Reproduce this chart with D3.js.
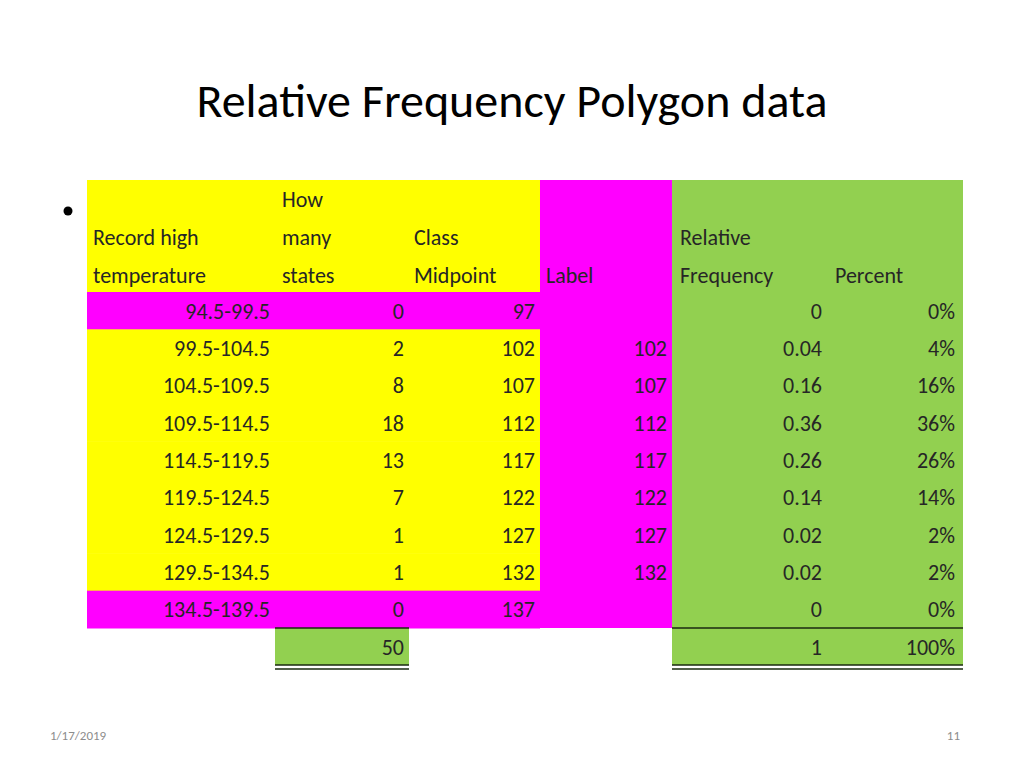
<!DOCTYPE html>
<html><head><meta charset="utf-8">
<script src="https://cdn.jsdelivr.net/npm/d3@7"></script>
<style>body{margin:0;background:#fff}</style></head>
<body><svg id="c" width="1024" height="768"></svg>
<script>
const classes=["94.5-99.5","99.5-104.5","104.5-109.5","109.5-114.5","114.5-119.5","119.5-124.5","124.5-129.5","129.5-134.5","134.5-139.5"];
const counts=[0,2,8,18,13,7,1,1,0];
const midpoints=[97,102,107,112,117,122,127,132,137];
const labels=["",102,107,112,117,122,127,132,""];
const relFreq=["0","0.04","0.16","0.36","0.26","0.14","0.02","0.02","0"];
const percents=["0%","4%","16%","36%","26%","14%","2%","2%","0%"];
const headers=[["","How",""],["Record high","many","Class","","Relative",""],["temperature","states","Midpoint","Label","Frequency","Percent"]];
const totals={count:"50",rel:"1",pct:"100%"};

const Y="#ffff00",M="#ff00ff",G="#92d050",T="#262626";
const svg=d3.select("#c");
svg.append("text").attr("x",512).attr("y",117).attr("text-anchor","middle")
 .attr("font-family","Carlito, 'Open Sans', sans-serif").attr("font-size",48).attr("fill","#000").text("Relative Frequency Polygon data");
svg.append("circle").attr("cx",68).attr("cy",211).attr("r",4.5).attr("fill","#000");

const colEdges=[87,275,409,540,672,827,963];
const rows=d3.range(classes.length);
const y=d3.scaleBand().domain(rows).range([292,628]);
const tf="Carlito, 'Open Sans', sans-serif";
// backgrounds
svg.append("rect").attr("x",87).attr("y",180).attr("width",453).attr("height",112).attr("fill",Y);
svg.append("rect").attr("x",540).attr("y",180).attr("width",132).attr("height",448).attr("fill",M);
svg.append("rect").attr("x",672).attr("y",180).attr("width",291).attr("height",448).attr("fill",G);
svg.selectAll(".rb").data(rows).join("rect").attr("x",87).attr("y",d=>y(d)).attr("width",453)
 .attr("height",y.bandwidth()+0.5).attr("fill",d=>(d===0||d===rows.length-1)?M:Y);
// totals row
const ty=628,th=37;
svg.append("rect").attr("x",275).attr("y",ty).attr("width",134).attr("height",th).attr("fill",G);
svg.append("rect").attr("x",672).attr("y",ty).attr("width",291).attr("height",th).attr("fill",G);
[[275,409],[672,963]].forEach(([a,b])=>{
 svg.append("line").attr("x1",a).attr("x2",b).attr("y1",ty).attr("y2",ty).attr("stroke","#1a2a10").attr("stroke-width",1.5);
 [ty+th,ty+th+4].forEach(v=>svg.append("line").attr("x1",a).attr("x2",b).attr("y1",v).attr("y2",v).attr("stroke","#1a2a10").attr("stroke-width",1.5));
});
// headers
const hx=[93,282,414,546,680,835];
const hy=[207,245,283];
headers.forEach((row,i)=>row.forEach((t,j)=>{ if(t) svg.append("text").attr("x",hx[j]).attr("y",hy[i]).attr("font-family",tf).attr("font-size",22).attr("fill",T).text(t);}));
// data cells
const cols=[classes,counts,midpoints,labels,relFreq,percents];
const rx=[270,404,535,667,822,955];
cols.forEach((arr,j)=>{
 svg.selectAll(".c"+j).data(arr).join("text").attr("x",rx[j]).attr("y",(d,i)=>y(i)+y.bandwidth()/2+8)
  .attr("text-anchor","end").attr("font-family",tf).attr("font-size",22).attr("fill",T).text(d=>d);
});
[[404,totals.count],[822,totals.rel],[955,totals.pct]].forEach(([x,t])=>
 svg.append("text").attr("x",x).attr("y",ty+th/2+8).attr("text-anchor","end").attr("font-family",tf).attr("font-size",22).attr("fill",T).text(t));
// footer
svg.append("text").attr("x",50).attr("y",740).attr("font-family",tf).attr("font-size",13).attr("fill","#8c8c8c").text("1/17/2019");
svg.append("text").attr("x",960).attr("y",740).attr("text-anchor","end").attr("font-family",tf).attr("font-size",13).attr("fill","#8c8c8c").text("11");
</script></body></html>
